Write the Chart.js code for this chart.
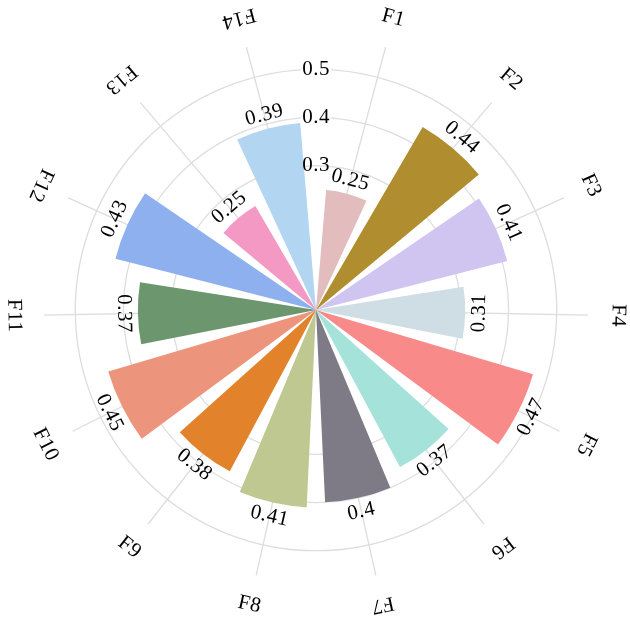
<!DOCTYPE html>
<html>
<head>
<meta charset="utf-8">
<script src="https://cdn.jsdelivr.net/npm/chart.js@4/dist/chart.umd.min.js"></script>
<style>
    body { margin: 0; background: #fff; }
    .chart-box { width: 630px; height: 617px; }
</style>
</head>
<body>
<div class="chart-box"><canvas id="polar-chart"></canvas></div>
<script>
const categories = ['F1', 'F2', 'F3', 'F4', 'F5', 'F6', 'F7', 'F8', 'F9', 'F10', 'F11', 'F12', 'F13', 'F14'];
const values = [0.25, 0.44, 0.41, 0.31, 0.47, 0.37, 0.4, 0.41, 0.38, 0.45, 0.37, 0.43, 0.25, 0.39];
const colors = ['#e3bcbe', '#b08e30', '#d0c4f0', '#cedee4', '#f88a8a', '#a4e2da', '#7e7a86',
    '#bec890', '#e2822a', '#ec947c', '#6c966e', '#8eb0ee', '#f498c4', '#b2d6f2'];
const tickValues = [0.3, 0.4, 0.5];
const tickLabels = ['0.3', '0.4', '0.5'];

// the bars are a little closer than 360/14 and leave a wider opening at the top,
// so the scale is split into fine slots and every 12th slot carries a category
const slotCount = 170;
const firstSlot = 7;
const slotStep = 12;
const slotAngle = 360 / slotCount;
const barAngle = 20;
const fontFamily = '"Liberation Serif", "Times New Roman", serif';
const labelFont = '21px ' + fontFamily;

let slotLabels = [];
for (let i = 0; i < slotCount; i++) slotLabels.push('');
categories.forEach((name, i) => {
    slotLabels[firstSlot + i * slotStep] = name;
});

// an empty slice before every bar keeps the bar centred on its spoke
let barValues = [];
let barColors = [];
let barAngles = [];
categories.forEach((name, i) => {
    const lead = i === 0 ? firstSlot * slotAngle - barAngle / 2 : slotStep * slotAngle - barAngle;
    barValues.push(0, values[i]);
    barColors.push('rgba(0,0,0,0)', colors[i]);
    barAngles.push(lead, barAngle);
});

function slotOf(i) {
    return firstSlot + i * slotStep;
}

function drawRotated(ctx, text, pos, rot) {
    ctx.save();
    ctx.translate(pos.x, pos.y);
    ctx.rotate(rot);
    ctx.fillText(text, 0, 0);
    ctx.restore();
}

function readableAngle(theta) {
    if (theta < Math.PI / 2) return theta;
    if (theta < Math.PI * 1.5) return theta - Math.PI;
    return theta - Math.PI * 2;
}

const rotatedLabels = {
    id: 'rotatedLabels',
    beforeDraw(chart) {
        chart.ctx.letterSpacing = '0.5px';
    },
    afterDatasetsDraw(chart) {
        const scale = chart.scales.r;
        const ctx = chart.ctx;
        ctx.save();
        ctx.fillStyle = '#000';
        ctx.font = labelFont;
        ctx.textAlign = 'center';
        ctx.textBaseline = 'middle';
        categories.forEach((name, i) => {
            const idx = slotOf(i);
            const theta = scale.getIndexAngle(idx);
            const outer = scale.getPointPosition(idx, scale.drawingArea + 30);
            drawRotated(ctx, name, outer, theta % Math.PI);
            const r = scale.getDistanceFromCenterForValue(values[i]) + 14;
            const inner = scale.getPointPosition(idx, r);
            drawRotated(ctx, String(values[i]), inner, readableAngle(theta));
        });
        ctx.restore();
    }
};

const polarCtx = document.getElementById('polar-chart').getContext('2d');

const polarChart = new Chart(polarCtx, {
    type: 'polarArea',
    data: {
        labels: slotLabels,
        datasets: [{
            data: barValues,
            backgroundColor: barColors,
            angle: (c) => barAngles[c.dataIndex],
            borderWidth: 0
        }]
    },
    options: {
        responsive: true,
        maintainAspectRatio: false,
        animation: false,
        layout: {
            padding: { top: 26, bottom: 23, left: 2, right: 0 }
        },
        plugins: {
            legend: { display: false },
            tooltip: { enabled: false }
        },
        scales: {
            r: {
                min: 0,
                max: 0.565,
                startAngle: 0,
                afterBuildTicks: (scale) => {
                    scale.ticks = [0].concat(tickValues).map((v) => ({ value: v }));
                },
                ticks: {
                    z: 1,
                    callback: (v) => {
                        const k = tickValues.indexOf(v);
                        return k >= 0 ? tickLabels[k] : '';
                    },
                    color: '#000',
                    font: { family: fontFamily, size: 21 },
                    backdropColor: '#fff',
                    backdropPadding: 1,
                    showLabelBackdrop: (c) => c.tick && c.tick.value !== tickValues[0]
                },
                grid: {
                    circular: true,
                    color: '#dddddd',
                    lineWidth: 1.3
                },
                angleLines: {
                    display: true,
                    color: '#dddddd',
                    lineWidth: (c) => (slotLabels[c.index] ? 1.3 : 0)
                },
                pointLabels: { display: false }
            }
        }
    },
    plugins: [rotatedLabels]
});
</script>
</body>
</html>
